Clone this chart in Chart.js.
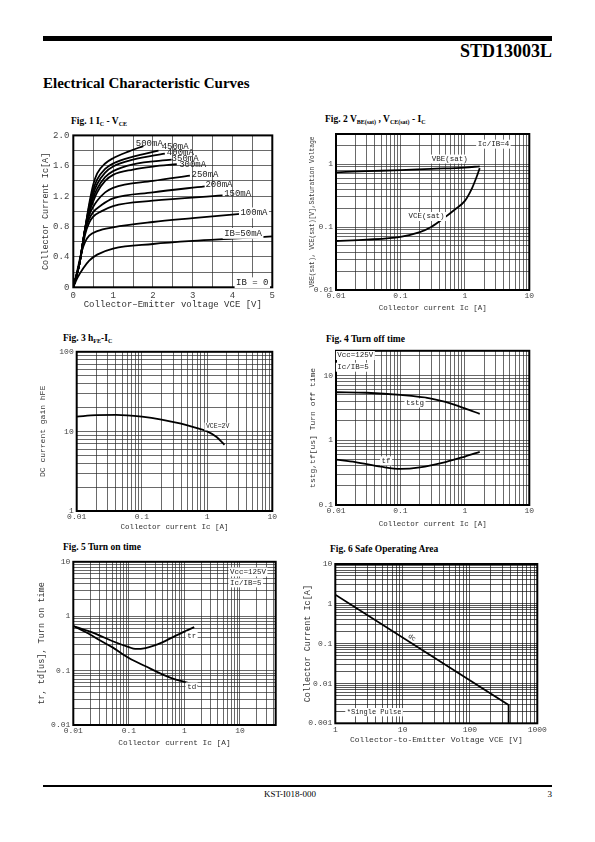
<!DOCTYPE html>
<html>
<head>
<meta charset="utf-8">
<script src="https://cdn.jsdelivr.net/npm/chart.js@4.4.1/dist/chart.umd.min.js"></script>
<style>
  body { margin: 0; width: 595px; height: 842px; position: relative; overflow: hidden; background: #fff; font-family: "Liberation Serif", "Times New Roman", serif; }
  .rule { position: absolute; left: 43px; width: 509px; background: #000; }
  .txt { position: absolute; white-space: nowrap; line-height: 1; color: #000; }
  .fig { position: absolute; white-space: nowrap; line-height: 1; font-weight: bold; font-size: 9.5px; }
  .fig sub { font-size: 6px; vertical-align: -2px; line-height: 0; }
  canvas { position: absolute; }
</style>
</head>
<body>
<div class="rule" style="top:36px;height:5px"></div>
<div class="txt" style="right:43px;top:42px;font-size:18px;font-weight:bold">STD13003L</div>
<div class="txt" style="left:43px;top:76.2px;font-size:15px;font-weight:bold">Electrical Characteristic Curves</div>

<div class="fig" style="left:71px;top:117px">Fig. 1 I<sub>C</sub> - V<sub>CE</sub></div>
<div class="fig" style="left:325px;top:115px">Fig. 2 V<sub>BE(sat)</sub> , V<sub>CE(sat)</sub> - I<sub>C</sub></div>
<div class="fig" style="left:63px;top:334px">Fig. 3 h<sub>FE</sub>-I<sub>C</sub></div>
<div class="fig" style="left:326px;top:335px">Fig. 4 Turn off time</div>
<div class="fig" style="left:63px;top:543px">Fig. 5 Turn on time</div>
<div class="fig" style="left:330px;top:545px">Fig. 6 Safe Operating Area</div>

<div class="rule" style="top:785px;height:2px"></div>
<div class="txt" style="left:290px;top:790.3px;font-size:9px;transform:translateX(-50%)">KST-I018-000</div>
<div class="txt" style="right:43px;top:790.3px;font-size:9px">3</div>

<script>
// Fig. 1  Ic - Vce  (Vce in V, Ic in A)
const vce500 = [0, 0.15, 0.3, 0.4, 0.5, 0.6, 0.8, 1, 1.4, 1.76];
const ic500  = [0, 0.3, 0.78, 1.1, 1.35, 1.5, 1.63, 1.7, 1.79, 1.86];
const vce450 = [0, 0.15, 0.3, 0.4, 0.5, 0.6, 0.8, 1, 1.5, 2.14];
const ic450  = [0, 0.3, 0.78, 1.07, 1.28, 1.42, 1.56, 1.63, 1.72, 1.8];
const vce400 = [0, 0.15, 0.3, 0.4, 0.5, 0.6, 0.8, 1, 1.5, 2.3];
const ic400  = [0, 0.3, 0.78, 1.04, 1.23, 1.36, 1.51, 1.59, 1.68, 1.76];
const vce350 = [0, 0.15, 0.3, 0.4, 0.5, 0.6, 0.8, 1, 1.5, 2.47];
const ic350  = [0, 0.3, 0.78, 1.01, 1.18, 1.3, 1.45, 1.53, 1.62, 1.68];
const vce300 = [0, 0.15, 0.3, 0.4, 0.5, 0.6, 0.8, 1, 1.5, 2, 2.6];
const ic300  = [0, 0.3, 0.78, 0.98, 1.13, 1.25, 1.4, 1.48, 1.55, 1.59, 1.62];
const vce250 = [0, 0.15, 0.3, 0.4, 0.5, 0.6, 0.8, 1, 2, 2.93];
const ic250  = [0, 0.3, 0.77, 0.95, 1.06, 1.14, 1.25, 1.31, 1.4, 1.47];
const vce200 = [0, 0.15, 0.3, 0.4, 0.5, 0.7, 1, 2, 3.3];
const ic200  = [0, 0.3, 0.75, 0.9, 0.99, 1.08, 1.17, 1.25, 1.33];
const vce150 = [0, 0.15, 0.3, 0.4, 0.5, 0.7, 1, 2, 3.75];
const ic150  = [0, 0.3, 0.7, 0.85, 0.93, 1.0, 1.07, 1.14, 1.21];
const vce100 = [0, 0.1, 0.2, 0.3, 0.4, 0.6, 1, 2, 3, 4.27];
const ic100  = [0, 0.22, 0.45, 0.6, 0.68, 0.74, 0.79, 0.86, 0.91, 0.97];
const vce50  = [0, 0.1, 0.25, 0.4, 0.6, 1, 2, 3, 4, 5];
const ic50   = [0, 0.12, 0.25, 0.35, 0.43, 0.51, 0.57, 0.61, 0.64, 0.67];

// Fig. 2  saturation voltages (Ic in A, V in V)
const satIc    = [0.01, 0.03, 0.1, 0.3, 1, 1.7];
const vbeSat   = [0.74, 0.77, 0.8, 0.84, 0.88, 0.92];
const vceSatIc = [0.01, 0.03, 0.1, 0.2, 0.3, 0.5, 0.7, 1, 1.3, 1.5, 1.7];
const vceSat   = [0.06, 0.063, 0.07, 0.083, 0.1, 0.145, 0.19, 0.26, 0.42, 0.6, 0.86];

// Fig. 3  DC current gain
const hfeIc = [0.01, 0.02, 0.04, 0.1, 0.2, 0.4, 0.7, 1, 1.4, 1.85];
const hfe   = [15.3, 16, 16.1, 15.3, 14.1, 12.5, 11, 10, 8.5, 6.8];

// Fig. 4  turn off time (us)
const tstgIc = [0.01, 0.03, 0.1, 0.3, 0.5, 1, 1.7];
const tstg   = [5.5, 5.4, 5.0, 4.4, 3.9, 3.1, 2.55];
const tfIc   = [0.01, 0.02, 0.05, 0.1, 0.2, 0.5, 1, 1.7];
const tf     = [0.5, 0.46, 0.39, 0.36, 0.38, 0.46, 0.56, 0.66];

// Fig. 5  turn on time (us)
const trIc = [0.01, 0.02, 0.03, 0.05, 0.1, 0.13, 0.2, 0.4, 0.7, 1, 1.5];
const tr   = [0.66, 0.52, 0.44, 0.35, 0.27, 0.25, 0.26, 0.33, 0.44, 0.52, 0.63];
const tdIc = [0.01, 0.02, 0.03, 0.05, 0.1, 0.2, 0.4, 0.7, 1, 1.75];
const td   = [0.66, 0.46, 0.36, 0.27, 0.17, 0.12, 0.085, 0.068, 0.062, 0.052];

// Fig. 6  safe operating area
const soaVce = [1, 375, 375];
const soaIc  = [1.7, 0.0029, 0.001];

const FONT = '"Liberation Mono", "DejaVu Sans Mono", monospace';

function pts(xs, ys) { return xs.map((v, i) => ({ x: v, y: ys[i] })); }

function stepTicks(min, max, step) {
    const out = [];
    for (let v = min; v <= max + 1e-9; v += step) out.push(Number(v.toFixed(6)));
    return out;
}

function logTicks(min, max) {
    const out = [];
    for (let e = Math.floor(Math.log10(min)); e <= Math.ceil(Math.log10(max)); e++) {
        for (let d = 1; d <= 9; d++) {
            const v = Number((d * Math.pow(10, e)).toPrecision(6));
            if (v >= min * 0.9999 && v <= max * 1.0001) out.push(v);
        }
    }
    if (out[out.length - 1] < max) out.push(max);
    return out;
}

function isDecade(v) { const l = Math.log10(v); return Math.abs(l - Math.round(l)) < 1e-9; }
const decadeLabel = v => isDecade(v) ? String(v) : '';

function curve(xs, ys, smooth = true) {
    return {
        data: pts(xs, ys), borderColor: '#000', borderWidth: 1.8,
        pointRadius: 0, fill: false,
        cubicInterpolationMode: smooth ? 'monotone' : 'default', tension: 0
    };
}

const framePlugin = {
    id: 'frame',
    afterDatasetsDraw(chart) {
        const { ctx, chartArea: a } = chart;
        ctx.save();
        ctx.strokeStyle = '#000';
        ctx.lineWidth = 2;
        ctx.strokeRect(a.left, a.top, a.right - a.left, a.bottom - a.top);
        ctx.restore();
    }
};

function notesPlugin(items, size) {
    return {
        id: 'notes',
        afterDatasetsDraw(chart) {
            const { ctx, scales } = chart;
            items.forEach(n => {
                const fs = n.size || size;
                const px = scales.x.getPixelForValue(n.x), py = scales.y.getPixelForValue(n.y);
                ctx.save();
                ctx.font = fs + 'px ' + FONT;
                ctx.textBaseline = 'middle';
                ctx.textAlign = 'left';
                ctx.translate(px, py);
                if (n.rot) ctx.rotate(n.rot * Math.PI / 180);
                if (n.bg) {
                    const w = ctx.measureText(n.t).width;
                    ctx.fillStyle = '#fff';
                    ctx.fillRect(-1.5, -fs * 0.6, w + 3, fs * 1.2);
                }
                ctx.fillStyle = '#222';
                ctx.fillText(n.t, 0, 0);
                ctx.restore();
            });
        }
    };
}

function makeChart(s) {
    const yLH = s.yTitleSize * 1.2, xLH = s.xTitleSize * 1.2;
    const left = Math.round(s.yTitleX - yLH / 2);
    const top = Math.round(s.T - 8);
    const right = Math.round(s.R + 14);
    const bottom = Math.round(s.xTitleY + xLH / 2);
    const cv = document.createElement('canvas');
    cv.width = right - left;
    cv.height = bottom - top;
    cv.style.left = left + 'px';
    cv.style.top = top + 'px';
    document.body.appendChild(cv);

    const scale = (ax, isX) => ({
        type: ax.type, min: ax.min, max: ax.max,
        afterBuildTicks: sc => { sc.ticks = ax.ticks.map(v => ({ value: v })); },
        afterFit: sc => { if (isX) sc.height = bottom - s.B; else sc.width = s.L - left; },
        ticks: {
            autoSkip: false, maxRotation: 0, minRotation: 0, padding: ax.pad,
            color: '#444', font: { family: FONT, size: s.tickSize || 8 }, callback: ax.label
        },
        grid: { color: s.gridColor || '#2a2a2a', lineWidth: 0.7, drawTicks: false },
        border: { display: false },
        title: { display: true, text: ax.title, color: '#333', padding: 0, font: { family: FONT, size: isX ? s.xTitleSize : s.yTitleSize } }
    });

    new Chart(cv, {
        type: 'line',
        data: { datasets: s.datasets },
        options: {
            responsive: false, animation: false, devicePixelRatio: 1,
            layout: { padding: { left: 0, bottom: 0, top: s.T - top, right: right - s.R } },
            plugins: { legend: { display: false }, tooltip: { enabled: false } },
            scales: { x: scale(s.x, true), y: scale(s.y, false) }
        },
        plugins: [framePlugin, notesPlugin(s.notes || [], s.noteSize || 8)]
    });
}

// Fig. 1
makeChart({
    L: 73.3, T: 134.3, R: 272.3, B: 287.3,
    yTitleX: 46, yTitleSize: 8.5, xTitleY: 305, xTitleSize: 9, tickSize: 9,
    x: { type: 'linear', min: 0, max: 5, ticks: stepTicks(0, 5, 0.5), pad: 3,
         label: v => Number.isInteger(v) ? String(v) : '', title: 'Collector\u2013Emitter voltage VCE [V]' },
    y: { type: 'linear', min: 0, max: 2, ticks: stepTicks(0, 2, 0.2), pad: 4,
         label: v => Math.abs(v / 0.4 - Math.round(v / 0.4)) < 1e-6 ? (v === 0 ? '0' : v.toFixed(1)) : '',
         title: 'Collector Current Ic[A]' },
    datasets: [
        curve(vce500, ic500), curve(vce450, ic450), curve(vce400, ic400), curve(vce350, ic350),
        curve(vce300, ic300), curve(vce250, ic250), curve(vce200, ic200), curve(vce150, ic150),
        curve(vce100, ic100), curve(vce50, ic50)
    ],
    noteSize: 9,
    notes: [
        { t: '500mA', x: 1.57, y: 1.895 }, { t: '450mA', x: 2.22, y: 1.855 },
        { t: '400mA', x: 2.35, y: 1.77 }, { t: '350mA', x: 2.47, y: 1.69 },
        { t: '300mA', x: 2.66, y: 1.62 }, { t: '250mA', x: 2.97, y: 1.49 },
        { t: '200mA', x: 3.32, y: 1.35 }, { t: '150mA', x: 3.79, y: 1.24 },
        { t: '100mA', x: 4.2, y: 0.98, bg: true }, { t: 'IB=50mA', x: 3.79, y: 0.71, bg: true },
        { t: 'IB = 0', x: 4.09, y: 0.06, bg: true }
    ]
});

// Fig. 2
makeChart({
    L: 336, T: 134, R: 529.3, B: 290,
    yTitleX: 313, yTitleSize: 6.3, xTitleY: 308, xTitleSize: 7.5,
    x: { type: 'logarithmic', min: 0.01, max: 10, ticks: logTicks(0.01, 10), pad: 1.5, label: decadeLabel, title: 'Collector current Ic [A]' },
    y: { type: 'logarithmic', min: 0.01, max: 3, ticks: logTicks(0.01, 3), pad: 3, label: decadeLabel,
         title: 'VBE(sat), VCE(sat)[V],Saturation Voltage' },
    datasets: [curve(satIc, vbeSat), curve(vceSatIc, vceSat)],
    noteSize: 7.5,
    notes: [
        { t: 'VBE(sat)', x: 0.305, y: 1.2, bg: true },
        { t: 'VCE(sat)', x: 0.133, y: 0.147, bg: true },
        { t: 'Ic/IB=4', x: 1.58, y: 2.07, bg: true }
    ]
});

// Fig. 3
makeChart({
    L: 76.7, T: 351.7, R: 272.3, B: 511,
    yTitleX: 43, yTitleSize: 8, xTitleY: 527, xTitleSize: 7.5,
    x: { type: 'logarithmic', min: 0.01, max: 10, ticks: logTicks(0.01, 10), pad: 1, label: decadeLabel, title: 'Collector current Ic [A]' },
    y: { type: 'logarithmic', min: 1, max: 100, ticks: logTicks(1, 100), pad: 3, label: decadeLabel, title: 'DC current gain hFE' },
    datasets: [curve(hfeIc, hfe)],
    noteSize: 6.5,
    notes: [{ t: 'VCE=2V', x: 0.96, y: 11.5, bg: true }]
});

// Fig. 4
makeChart({
    L: 336, T: 350.7, R: 529.3, B: 505,
    yTitleX: 313, yTitleSize: 8, xTitleY: 524, xTitleSize: 7.5,
    x: { type: 'logarithmic', min: 0.01, max: 10, ticks: logTicks(0.01, 10), pad: 1.5, label: decadeLabel, title: 'Collector current Ic [A]' },
    y: { type: 'logarithmic', min: 0.1, max: 24, ticks: logTicks(0.1, 24), pad: 3, label: decadeLabel, title: 'tstg,tf[us] Turn off time' },
    datasets: [curve(tstgIc, tstg), curve(tfIc, tf)],
    noteSize: 7.5,
    notes: [
        { t: 'tstg', x: 0.122, y: 3.75, bg: true },
        { t: 'tf', x: 0.051, y: 0.48, bg: true },
        { t: 'Vcc=125V', x: 0.0105, y: 20.3, bg: true },
        { t: 'Ic/IB=5', x: 0.0105, y: 13.4, bg: true }
    ]
});

// Fig. 5
makeChart({
    L: 73.3, T: 561.7, R: 275.7, B: 725,
    yTitleX: 42, yTitleSize: 8.5, xTitleY: 743, xTitleSize: 7.8,
    x: { type: 'logarithmic', min: 0.01, max: 44, ticks: logTicks(0.01, 44), pad: 1.5, label: decadeLabel, title: 'Collector current Ic [A]' },
    y: { type: 'logarithmic', min: 0.01, max: 10, ticks: logTicks(0.01, 10), pad: 3, label: decadeLabel, title: 'tr, td[us], Turn on time' },
    datasets: [curve(trIc, tr), curve(tdIc, td)],
    noteSize: 7.5,
    notes: [
        { t: 'tr', x: 1.12, y: 0.43, bg: true },
        { t: 'td', x: 1.12, y: 0.05, bg: true },
        { t: 'Vcc=125V', x: 6.6, y: 6.5, bg: true },
        { t: 'Ic/IB=5', x: 6.6, y: 4.1, bg: true }
    ]
});

// Fig. 6
makeChart({
    L: 335.3, T: 564, R: 537.3, B: 723.3,
    yTitleX: 308, yTitleSize: 8.5, xTitleY: 740, xTitleSize: 8, gridColor: '#111',
    x: { type: 'logarithmic', min: 1, max: 1000, ticks: logTicks(1, 1000), pad: 1.5, label: decadeLabel, title: 'Collector-to-Emitter Voltage VCE [V]' },
    y: { type: 'logarithmic', min: 0.001, max: 10, ticks: logTicks(0.001, 10), pad: 3, label: decadeLabel, title: 'Collector Current Ic[A]' },
    datasets: [curve(soaVce, soaIc, false)],
    noteSize: 7,
    notes: [
        { t: 'dc', x: 12.3, y: 0.16, rot: 33, size: 6.5 },
        { t: '*Single Pulse', x: 1.48, y: 0.0019, bg: true }
    ]
});
</script>
</body>
</html>
